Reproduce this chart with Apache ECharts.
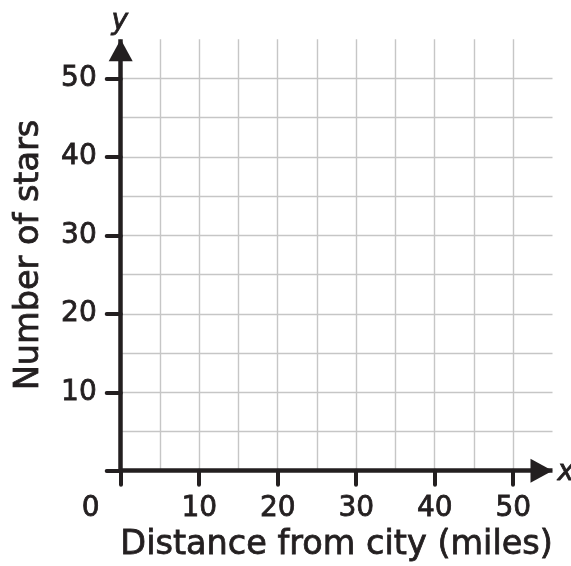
<!DOCTYPE html>
<html>
<head>
<meta charset="utf-8">
<script src="https://cdn.jsdelivr.net/npm/echarts@6/dist/echarts.min.js"></script>
<style>
  html, body { margin: 0; padding: 0; background: #ffffff; }
  #chart { width: 571px; height: 566px; }
</style>
</head>
<body>
<div id="chart"></div>
<script>
// Axis extents, grid spacing and tick labels
const xMax = 55;
const yMax = 55;
const gridStep = 5;
const xTickValues = [0, 10, 20, 30, 40, 50];
const yTickValues = [0, 10, 20, 30, 40, 50];
const xLabelValues = [0, 10, 20, 30, 40, 50];
const yLabelValues = [10, 20, 30, 40, 50];
const xTitle = 'Distance from city (miles)';
const yTitle = 'Number of stars';

const ink = '#231f20';
const gridGray = '#c6c6c6';
const fontFamily = '"DejaVu Sans", "Noto Sans", sans-serif';
// a thin outline in the text colour gives the glyphs a medium weight
const heavier = { textBorderColor: ink, textBorderWidth: 0.8 };

const chart = echarts.init(document.getElementById('chart'), null, { renderer: 'canvas' });

// Main axis: thick line with an arrow head, ticks and labels every 10
function mainAxis(max, tickValues, labelValues) {
  return {
    type: 'value',
    gridIndex: 0,
    min: 0,
    max: max,
    interval: gridStep,
    z: 3,
    axisLine: {
      show: true,
      symbol: ['none', 'triangle'],
      symbolSize: [24, 22],
      symbolOffset: [0, -11],
      lineStyle: { color: ink, width: 4.5, cap: 'butt' }
    },
    axisTick: {
      show: true,
      inside: false,
      length: 14,
      customValues: tickValues,
      lineStyle: { color: ink, width: 4, cap: 'round' }
    },
    axisLabel: Object.assign({
      customValues: labelValues,
      color: ink,
      fontFamily: fontFamily,
      fontSize: 28
    }, heavier),
    splitLine: { show: false }
  };
}

// Companion axis that only draws the light grid every 5 units
function gridAxis(max, position) {
  return {
    type: 'value',
    gridIndex: 0,
    position: position,
    min: 0,
    max: max,
    interval: gridStep,
    z: 0,
    axisLine: { show: false },
    axisTick: { show: false },
    axisLabel: { show: false },
    splitLine: {
      show: true,
      showMinLine: false,
      showMaxLine: false,
      lineStyle: { color: gridGray, width: 1.4 }
    }
  };
}

const xMain = mainAxis(xMax, xTickValues, xLabelValues);
xMain.position = 'bottom';
xMain.axisLabel.margin = 24;
xMain.axisLabel.formatter = function (v) { return v === 0 ? '{zero|0}' : String(v); };
xMain.axisLabel.rich = {
  zero: Object.assign({ fontFamily: fontFamily, fontSize: 28, color: ink, padding: [0, 60, 0, 0] }, heavier)
};
xMain.name = xTitle;
xMain.nameLocation = 'middle';
xMain.nameGap = 58;
xMain.nameTextStyle = Object.assign({ color: ink, fontFamily: fontFamily, fontSize: 33.5 }, heavier);

const yMain = mainAxis(yMax, yTickValues, yLabelValues);
yMain.position = 'left';
yMain.axisLabel.margin = 24;
yMain.name = yTitle;
yMain.nameLocation = 'middle';
yMain.nameGap = 74;
yMain.nameTextStyle = Object.assign({ color: ink, fontFamily: fontFamily, fontSize: 33.5 }, heavier);

chart.setOption({
  animation: false,
  backgroundColor: '#ffffff',
  grid: {
    left: 120.7, right: 18.5, top: 39.3, bottom: 95.3,
    containLabel: false,
    outerBoundsMode: 'none'
  },
  xAxis: [xMain, gridAxis(xMax, 'bottom')],
  yAxis: [yMain, gridAxis(yMax, 'left')],
  series: [{ type: 'scatter', xAxisIndex: 0, yAxisIndex: 0, data: [] }],
  graphic: [
    {
      type: 'text',
      left: 111, top: 7,
      style: { text: 'y', fill: ink, font: 'italic 28px ' + fontFamily, stroke: ink, lineWidth: 0.8 }
    },
    {
      type: 'text',
      left: 557, top: 458,
      style: { text: 'x', fill: ink, font: 'italic 28px ' + fontFamily, stroke: ink, lineWidth: 0.8 }
    }
  ]
});
</script>
</body>
</html>
